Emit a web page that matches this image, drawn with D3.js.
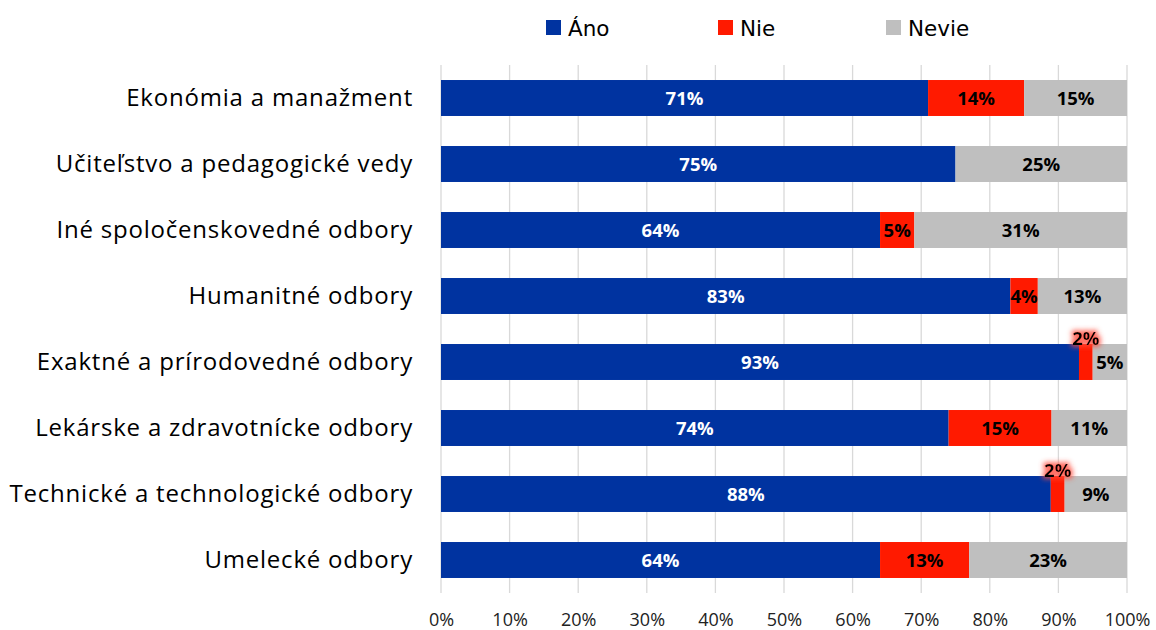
<!DOCTYPE html>
<html>
<head>
<meta charset="utf-8">
<script src="https://cdn.jsdelivr.net/npm/d3@7"></script>
<style>
  html, body { margin: 0; padding: 0; background: #fff; }
  svg { display: block; }
</style>
</head>
<body>
<svg id="chart" width="1156" height="630"></svg>
<script>
// Fields of study, top to bottom
const categories = [
  "Ekonómia a manažment",
  "Učiteľstvo a pedagogické vedy",
  "Iné spoločenskovedné odbory",
  "Humanitné odbory",
  "Exaktné a prírodovedné odbory",
  "Lekárske a zdravotnícke odbory",
  "Technické a technologické odbory",
  "Umelecké odbory"
];
const seriesNames = ["Áno", "Nie", "Nevie"];
// Shares in percent for each answer
const ano   = [71, 75, 64, 83, 93, 74, 88, 64];
const nie   = [14,  0,  5,  4,  2, 15,  2, 13];
const nevie = [15, 25, 31, 13,  5, 11,  9, 23];
const tickValues = [0, 0.1, 0.2, 0.3, 0.4, 0.5, 0.6, 0.7, 0.8, 0.9, 1];

const colors = ["#0033A0", "#FF1A00", "#BFBFBF"];
const labelColors = ["#ffffff", "#000000", "#000000"];

const svg = d3.select("#chart");
const margin = { left: 441, right: 29, top: 65, bottom: 37 };
const W = 1156, H = 630;

// Build rows for a 100% stacked layout
const rows = categories.map((c, i) => ({ cat: c, "Áno": ano[i], "Nie": nie[i], "Nevie": nevie[i] }));
const stack = d3.stack().keys(seriesNames).offset(d3.stackOffsetExpand);
const layers = stack(rows);

const x = d3.scaleLinear().domain([0, 1]).range([margin.left, W - margin.right]);
const y = d3.scaleBand().domain(categories).range([margin.top, H - margin.bottom]).paddingInner(0.455).paddingOuter(0.2275);

// Glow used behind labels that sit above tiny segments
const defs = svg.append("defs");
const glow = defs.append("filter").attr("id", "glow").attr("x", "-50%").attr("y", "-50%").attr("width", "200%").attr("height", "200%");
glow.append("feMorphology").attr("in", "SourceAlpha").attr("operator", "dilate").attr("radius", 1.8).attr("result", "thick");
glow.append("feFlood").attr("flood-color", "#FF4A3A").attr("flood-opacity", 0.8);
glow.append("feComposite").attr("in2", "thick").attr("operator", "in");
glow.append("feGaussianBlur").attr("stdDeviation", 2.6).attr("result", "halo");
const merge = glow.append("feMerge");
merge.append("feMergeNode").attr("in", "halo");
merge.append("feMergeNode").attr("in", "SourceGraphic");

// Vertical gridlines
svg.append("g")
  .selectAll("line")
  .data(tickValues)
  .join("line")
  .attr("x1", d => x(d)).attr("x2", d => x(d))
  .attr("y1", margin.top).attr("y2", H - margin.bottom)
  .attr("stroke", "#D9D9D9").attr("stroke-width", 1.3);

// Bars
const g = svg.append("g");
layers.forEach((layer, si) => {
  g.append("g")
    .attr("fill", colors[si])
    .selectAll("rect")
    .data(layer)
    .join("rect")
    .attr("x", d => x(d[0]))
    .attr("y", d => y(d.data.cat))
    .attr("width", d => Math.max(0, x(d[1]) - x(d[0])))
    .attr("height", y.bandwidth());
});

// Data labels
const fontBody = "'Open Sans', 'Liberation Sans', sans-serif";
layers.forEach((layer, si) => {
  const key = seriesNames[si];
  layer.forEach(d => {
    const v = d.data[key];
    if (!v) return;
    const cx = (x(d[0]) + x(d[1])) / 2;
    const small = v < 3;
    const cy = small ? y(d.data.cat) - 6 : y(d.data.cat) + y.bandwidth() / 2;
    svg.append("text")
      .attr("x", cx)
      .attr("y", cy)
      .attr("dy", "0.36em")
      .attr("text-anchor", "middle")
      .attr("font-family", fontBody)
      .attr("font-weight", "bold")
      .attr("font-size", 18.5)
      .attr("fill", labelColors[si])
      .attr("filter", small ? "url(#glow)" : null)
      .text(v + "%");
  });
});

// Category axis labels
const yAxis = d3.axisLeft(y).tickSize(0).tickPadding(28);
const ya = svg.append("g").attr("transform", `translate(${margin.left},0)`).call(yAxis);
ya.select(".domain").remove();
ya.selectAll("text")
  .attr("font-family", fontBody)
  .attr("font-size", 24)
  .attr("letter-spacing", 0.8)
  .attr("fill", "#000");

// Percentage axis
const xAxis = d3.axisBottom(x).tickValues(tickValues).tickFormat(d3.format(".0%")).tickSize(0).tickPadding(20);
const xa = svg.append("g").attr("transform", `translate(0,${H - margin.bottom})`).call(xAxis);
xa.select(".domain").remove();
xa.selectAll("text")
  .attr("font-family", fontBody)
  .attr("font-size", 18)
  .attr("fill", "#222");

// Legend
const legendX = [546, 718, 886];
const lg = svg.append("g");
seriesNames.forEach((name, i) => {
  lg.append("rect").attr("x", legendX[i]).attr("y", 20).attr("width", 15).attr("height", 15).attr("fill", colors[i]);
  lg.append("text")
    .attr("x", legendX[i] + 22).attr("y", 28).attr("dy", "0.35em")
    .attr("font-family", "'DejaVu Sans', sans-serif")
    .attr("font-size", 21.5)
    .attr("fill", "#000")
    .text(name);
});
</script>
</body>
</html>
